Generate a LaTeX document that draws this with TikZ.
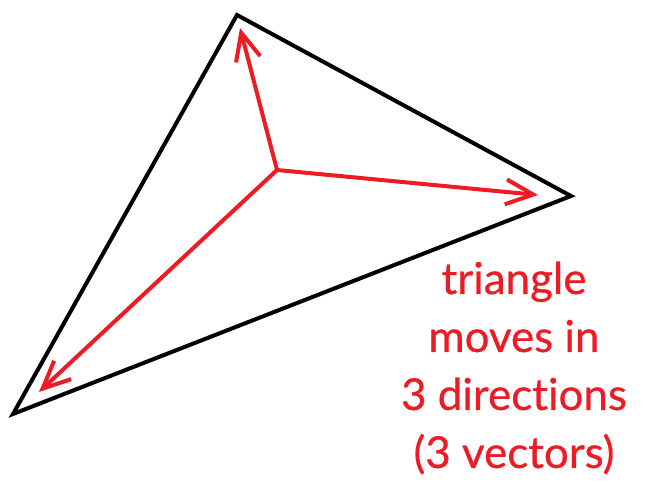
\documentclass[tikz,border=0pt]{standalone}
\usepackage{fontspec}
\setmainfont{Lato}[RawFeature=-liga, FakeBold=0.6]
\usetikzlibrary{arrows.meta}

\definecolor{vecred}{RGB}{237,28,36}

\begin{document}
\begin{tikzpicture}[
    x=0.02cm, y=-0.02cm,
    edge/.style={draw, black, line width=0.08cm, line join=miter},
    vector/.style={draw, vecred, line width=0.08cm, -{Straight Barb[length=0.55cm, width=0.5cm, line width=0.08cm]}},
    label_text/.style={text=vecred, font=\fontsize{25}{33}\selectfont, align=center}
]
\useasboundingbox (0,0) rectangle (650,500);

% Triangle corners
\coordinate (top) at (237,15);
\coordinate (right) at (571,196);
\coordinate (left) at (13,414);

% Triangle
\draw[edge] (top) -- (right) -- (left) -- cycle;

% Vectors
\coordinate (centre) at (277,170);
\coordinate (tiptop) at (240,28);
\coordinate (tipright) at (538,195);
\coordinate (tipleft) at (39,392);
\draw[vector] (centre) -- (tiptop);
\draw[vector] (centre) -- (tipright);
\draw[vector] (centre) -- (tipleft);

% Label
\node[label_text] (note) at (514,368) {triangle\\moves in\\3 directions\\(3 vectors)};

\end{tikzpicture}
\end{document}
